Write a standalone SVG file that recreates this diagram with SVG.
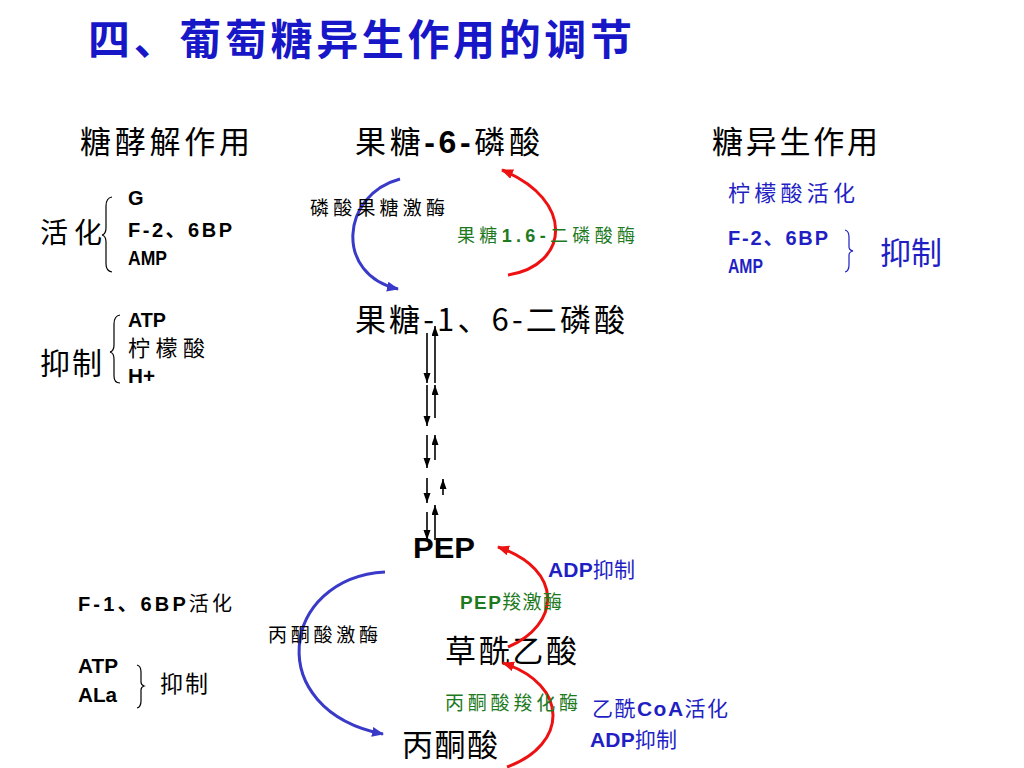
<svg xmlns="http://www.w3.org/2000/svg" width="1024" height="768" viewBox="0 0 1024 768">
<style>
text{font-family:"Noto Sans CJK SC","Noto Sans CJK JP",sans-serif;fill:#000}
.lat{font-family:"Liberation Sans","Noto Sans CJK SC",sans-serif;font-weight:bold}
.big{font-size:31px}
.sm{font-size:19px}
.blue{fill:#1f1fc4}
.green{fill:#1e7a1e}
.title{font-size:42px;font-weight:bold;fill:#1717c8}
.arcb{fill:none;stroke:#3a3ac8;stroke-width:3}
.arcr{fill:none;stroke:#ee1111;stroke-width:3}
.vl{fill:none;stroke:#000;stroke-width:1.6}
.brace{fill:none;stroke:#000;stroke-width:1.2}
.braceb{fill:none;stroke:#1f1fc4;stroke-width:1.2}
</style>
<defs>
<marker id="ab" markerUnits="userSpaceOnUse" markerWidth="14" markerHeight="12" refX="11" refY="5" orient="auto"><path d="M0,0 L12,5 L0,10 z" fill="#3a3ac8"/></marker>
<marker id="ar" markerUnits="userSpaceOnUse" markerWidth="14" markerHeight="12" refX="11" refY="5" orient="auto"><path d="M0,0 L12,5 L0,10 z" fill="#ee1111"/></marker>
<marker id="ak" markerUnits="userSpaceOnUse" markerWidth="12" markerHeight="8" refX="10" refY="3.5" orient="auto"><path d="M0,0 L10,3.5 L0,7 z" fill="#000"/></marker>
</defs>

<g id="title"><text class="title" x="88" y="55" textLength="544" lengthAdjust="spacing">四、葡萄糖异生作用的调节</text></g>

<g id="headers">
<text class="big" x="80" y="153" textLength="170" lengthAdjust="spacing">糖酵解作用</text>
<text class="big" x="712" y="153" textLength="166" lengthAdjust="spacing">糖异生作用</text>
</g>

<g id="node-f6p"><text class="big" x="355" y="153" textLength="185" lengthAdjust="spacing">果糖<tspan class="lat" font-size="32">-6-</tspan>磷酸</text></g>
<g id="node-f16bp"><text class="big" x="355" y="331" textLength="270" lengthAdjust="spacing">果糖-1、6-二磷酸</text></g>
<g id="node-pep"><text class="lat" font-size="29" x="413" y="558" textLength="62" lengthAdjust="spacingAndGlyphs">PEP</text></g>
<g id="node-oaa"><text class="big" x="445" y="662" textLength="132" lengthAdjust="spacing">草酰乙酸</text></g>
<g id="node-pyr"><text class="big" x="402" y="756" textLength="96" lengthAdjust="spacing">丙酮酸</text></g>

<g id="glycolysis-regulation">
<text font-size="28" x="40" y="243" textLength="62" lengthAdjust="spacing">活化</text>
<path class="brace" d="M112,197 Q106,198 106,206 L106,228 Q106,234 102,235 Q106,236 106,242 L106,264 Q106,271 112,272"/>
<text class="lat" font-size="20" x="128" y="205">G</text>
<text class="lat" font-size="20" x="128" y="237" textLength="104" lengthAdjust="spacing">F-2、6BP</text>
<text class="lat" font-size="20" x="128" y="265" textLength="39" lengthAdjust="spacingAndGlyphs">AMP</text>
<text font-size="30" x="40" y="374" textLength="62" lengthAdjust="spacing">抑制</text>
<path class="brace" d="M120,315 Q114,316 114,324 L114,345 Q114,351 110,352 Q114,353 114,359 L114,376 Q114,383 120,383"/>
<text class="lat" font-size="20" x="128" y="327" textLength="38" lengthAdjust="spacingAndGlyphs">ATP</text>
<text font-size="22" x="128" y="356" textLength="77" lengthAdjust="spacing">柠檬酸</text>
<text class="lat" font-size="20" x="128" y="383" textLength="27" lengthAdjust="spacingAndGlyphs">H+</text>
</g>

<g id="gluconeogenesis-regulation">
<text class="blue" font-size="22" x="728" y="201" textLength="127" lengthAdjust="spacing">柠檬酸活化</text>
<text class="lat blue" font-size="20" x="728" y="245" textLength="100" lengthAdjust="spacing">F-2、6BP</text>
<text class="lat blue" font-size="20" x="728" y="273" textLength="35" lengthAdjust="spacingAndGlyphs">AMP</text>
<path class="braceb" d="M845,230 Q849,231 849,237 L849,247 Q849,250 853,251 Q849,252 849,255 L849,265 Q849,271 845,272"/>
<text class="blue" font-size="31" x="880" y="264" textLength="62" lengthAdjust="spacing">抑制</text>
</g>

<g id="pyruvate-kinase-regulation">
<text font-size="20" x="78" y="611" textLength="154" lengthAdjust="spacing"><tspan class="lat">F-1、6BP</tspan>活化</text>
<text class="lat" font-size="20" x="78" y="673" textLength="40" lengthAdjust="spacingAndGlyphs">ATP</text>
<text class="lat" font-size="20" x="78" y="702" textLength="39" lengthAdjust="spacingAndGlyphs">ALa</text>
<path class="brace" d="M137,665 Q141,666 141,672 L141,682 Q141,685 144,686 Q141,687 141,690 L141,701 Q141,707 137,708"/>
<text font-size="23" x="160" y="692" textLength="48" lengthAdjust="spacing">抑制</text>
</g>

<g id="connectors">
<path class="arcb" d="M400,179 C340,195 335,275 398,289" marker-end="url(#ab)"/>
<path class="arcr" d="M508,275 C570,265 575,200 502,170" marker-end="url(#ar)"/>
<path class="arcb" d="M385,572 C280,578 262,710 383,734" marker-end="url(#ab)"/>
<path class="arcr" d="M508,647 C560,625 565,570 498,547" marker-end="url(#ar)"/>
<path class="arcr" d="M507,767 C568,745 570,685 503,663" marker-end="url(#ar)"/>
<line class="vl" x1="427" y1="333" x2="427" y2="383" marker-end="url(#ak)"/>
<line class="vl" x1="427" y1="385" x2="427" y2="426" marker-end="url(#ak)"/>
<line class="vl" x1="427" y1="435" x2="427" y2="468" marker-end="url(#ak)"/>
<line class="vl" x1="427" y1="478" x2="427" y2="503" marker-end="url(#ak)"/>
<line class="vl" x1="427" y1="512" x2="427" y2="540" marker-end="url(#ak)"/>
<line class="vl" x1="435" y1="383" x2="435" y2="326" marker-end="url(#ak)"/>
<line class="vl" x1="435" y1="418" x2="435" y2="385" marker-end="url(#ak)"/>
<line class="vl" x1="435" y1="460" x2="435" y2="435" marker-end="url(#ak)"/>
<line class="vl" x1="443" y1="495" x2="443" y2="479" marker-end="url(#ak)"/>
<line class="vl" x1="435" y1="540" x2="435" y2="505" marker-end="url(#ak)"/>
</g>

<g id="enzyme-labels">
<text font-size="19" x="310" y="215" textLength="135" lengthAdjust="spacing">磷酸果糖激酶</text>
<text class="green" font-size="18" x="457" y="242" textLength="178" lengthAdjust="spacing">果糖<tspan class="lat">1.6-</tspan>二磷酸酶</text>
<text class="blue" font-size="21" x="548" y="577" textLength="87" lengthAdjust="spacing"><tspan class="lat">ADP</tspan>抑制</text>
<text class="green" font-size="19" x="460" y="609" textLength="102" lengthAdjust="spacing"><tspan class="lat">PEP</tspan>羧激酶</text>
<text font-size="19" x="268" y="642" textLength="110" lengthAdjust="spacing">丙酮酸激酶</text>
<text class="green" font-size="19" x="445" y="710" textLength="133" lengthAdjust="spacing">丙酮酸羧化酶</text>
<text class="blue" font-size="21" x="592" y="716" textLength="136" lengthAdjust="spacing">乙酰<tspan class="lat">CoA</tspan>活化</text>
<text class="blue" font-size="21" x="590" y="747" textLength="87" lengthAdjust="spacing"><tspan class="lat">ADP</tspan>抑制</text>
</g>
</svg>
